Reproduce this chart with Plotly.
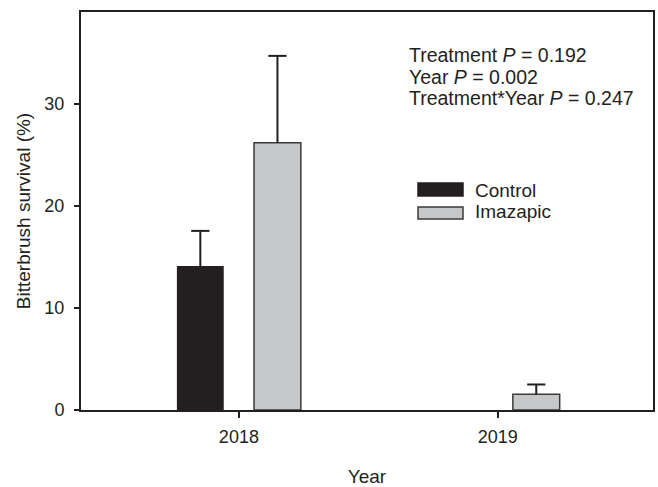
import plotly.graph_objects as go

# Bitterbrush survival by year and treatment (mean + SE)
years = ["2018", "2019"]
control_mean = [14.1, 0.0]
control_se = [3.45, 0.0]
imazapic_mean = [26.2, 1.55]
imazapic_se = [8.5, 0.95]

stats_lines = [
    "Treatment <i>P</i> = 0.192",
    "Year <i>P</i> = 0.002",
    "Treatment*Year <i>P</i> = 0.247",
]
legend_names = ["Control", "Imazapic"]

INK = "#231f20"
GREY = "#c6c7c9"
EDGE = "#3a3a3a"
FONT = "Liberation Sans, Arial, sans-serif"

W, H = 658, 487
ML, MR, MT, MB = 81, 5, 12, 77
PW, PH = W - ML - MR, H - MT - MB

BAR_W = 0.181      # bar width in x-axis units
OFFSET = 0.149     # distance of each bar centre from its year tick


def px(x):
    return (x - ML) / PW


def py(y):
    return (H - MB - y) / PH


fig = go.Figure()

series = [
    (legend_names[0], control_mean, control_se, -OFFSET, INK, INK, 0),
    (legend_names[1], imazapic_mean, imazapic_se, OFFSET, GREY, EDGE, 1.5),
]
for name, means, ses, shift, fill, edge, lw in series:
    xs = [i + shift for i in range(len(years))]
    fig.add_trace(go.Bar(
        x=xs, y=means, width=BAR_W, name=name,
        marker=dict(color=fill, line=dict(color=edge, width=lw)),
        showlegend=False,
    ))
    # upper error whiskers: stem drawn down from the cap to the bar top
    tops = [m + s if s > 0 else None for m, s in zip(means, ses)]
    fig.add_trace(go.Scatter(
        x=xs, y=tops, mode="markers",
        marker=dict(symbol="line-ew", size=13, color=INK,
                    line=dict(color=INK, width=2)),
        error_y=dict(type="data", symmetric=False, array=[0] * len(ses),
                     arrayminus=ses, color=INK, thickness=2, width=0),
        showlegend=False, hoverinfo="skip",
    ))

# statistics text block
for line, yc in zip(stats_lines, [55, 77, 98]):
    fig.add_annotation(x=px(407), y=py(yc), xref="paper", yref="paper",
                       text=line, showarrow=False, xanchor="left",
                       yanchor="middle", font=dict(size=19.5, color=INK, family=FONT))

# legend swatches and labels
swatches = [(INK, INK, 183, 196, 190), (GREY, EDGE, 207, 219, 212)]
for name, (fill, edge, y0, y1, yc) in zip(legend_names, swatches):
    fig.add_shape(type="rect", xref="paper", yref="paper",
                  x0=px(418), x1=px(463), y0=py(y1), y1=py(y0),
                  fillcolor=fill, line=dict(color=edge, width=1.5))
    fig.add_annotation(x=px(473), y=py(yc), xref="paper", yref="paper",
                       text=name, showarrow=False, xanchor="left",
                       yanchor="middle", font=dict(size=19, color=INK, family=FONT))

fig.update_layout(
    width=W, height=H,
    margin=dict(l=ML, r=MR, t=MT, b=MB, autoexpand=False),
    paper_bgcolor="white", plot_bgcolor="white",
    font=dict(family=FONT, color=INK, size=18),
)
fig.update_xaxes(
    range=[-0.61, 1.6], tickvals=list(range(len(years))), ticktext=years,
    showline=True, linecolor=INK, linewidth=2, mirror=True, automargin=False,
    ticks="outside", ticklen=6, tickwidth=1.5, tickcolor=INK,
    showgrid=False, zeroline=False,
    tickfont=dict(size=18, color=INK), ticklabelstandoff=3,
    title=dict(text="Year", font=dict(size=19, color=INK), standoff=26),
)
fig.update_yaxes(
    range=[0, 39], tickvals=[0, 10, 20, 30],
    showline=True, linecolor=INK, linewidth=2, mirror=True, automargin=False,
    ticks="outside", ticklen=5, tickwidth=1.5, tickcolor=INK,
    showgrid=False, zeroline=False,
    tickfont=dict(size=18, color=INK), ticklabelstandoff=6,
    title=dict(text="Bitterbrush survival (%)", font=dict(size=19, color=INK), standoff=9),
)

fig.write_html("out.html")
